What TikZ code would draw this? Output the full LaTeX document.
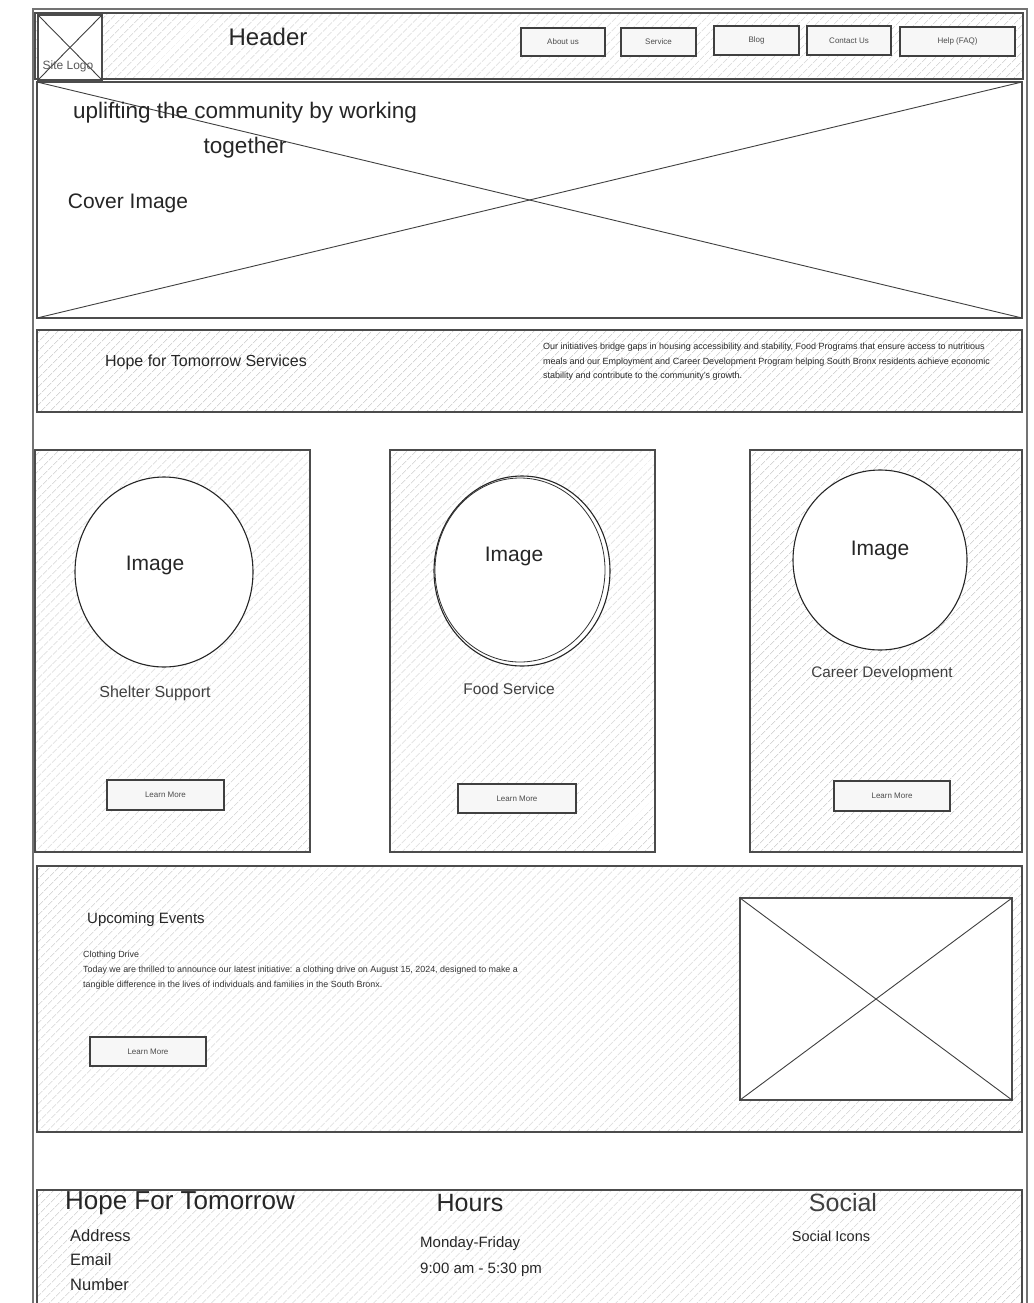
\documentclass[tikz,border=0pt]{standalone}
\usepackage{fontspec}
\setmainfont{Liberation Sans}
\usetikzlibrary{patterns.meta,shapes.geometric}
\begin{document}
\begin{tikzpicture}[x=1pt,y=-1pt,
  frame/.style={draw=black!70, line width=1.3pt},
  hatch/.style={pattern={Lines[angle=45,distance=6.5pt,line width=0.45pt]}, pattern color=black!25},
  box/.style={frame, hatch, inner sep=0pt, outer sep=0pt, anchor=north west},
  plain/.style={frame, fill=white, inner sep=0pt, outer sep=0pt, anchor=north west},
  btn/.style={draw=black!75, line width=1.2pt, fill=black!3, inner sep=0pt, outer sep=0pt, anchor=north west, font=\fontsize{8}{9}\selectfont, text=black!70},
  txt/.style={inner sep=0pt, text=black!85},
  cross/.style={draw=black!75, line width=0.9pt},
  img/.style={ellipse, draw=black!85, line width=1.1pt, fill=white, inner sep=0pt},
]
\useasboundingbox (0,0) rectangle (1033,1303);
% outer page frame
\node[draw=black!55, line width=2.2pt, inner sep=0pt, anchor=north west, minimum width=994, minimum height=1320] (page) at (32,8) {};
% header
\node[box, minimum width=988, minimum height=66] (hdr) at (35,13) {};
\node[plain, minimum width=64, minimum height=65] (logo) at (38,15) {};
\draw[cross] (logo.north west) -- (logo.south east);
\draw[cross] (logo.north east) -- (logo.south west);
\node[txt, font=\fontsize{12}{14}\selectfont, text=black!65] (logotxt) at (68,66) {Site Logo};
\node[txt, font=\fontsize{24}{28}\selectfont] (hdrtxt) at (268,37) {Header};
\node[btn, minimum width=84, minimum height=28] (b1) at (521,28) {About us};
\node[btn, minimum width=75, minimum height=28] (b2) at (621,28) {Service};
\node[btn, minimum width=85, minimum height=29] (b3) at (714,26) {Blog};
\node[btn, minimum width=84, minimum height=29] (b4) at (807,26) {Contact Us};
\node[btn, minimum width=115, minimum height=29] (b5) at (900,27) {Help (FAQ)};
% cover
\node[plain, minimum width=985, minimum height=236] (cover) at (37,82) {};
\draw[cross] (cover.north west) -- (cover.south east);
\draw[cross] (cover.north east) -- (cover.south west);
\node[txt, font=\fontsize{22.5}{35}\selectfont, align=center] (slogan) at (245,130) {uplifting the community by working\\together};
\node[txt, font=\fontsize{21}{24}\selectfont] (covertxt) at (128,203) {Cover Image};
% services band
\node[box, minimum width=985, minimum height=82] (serv) at (37,330) {};
\node[txt, font=\fontsize{16}{19}\selectfont] (servtitle) at (206,362) {Hope for Tomorrow Services};
\node[txt, font=\fontsize{9}{14.5}\selectfont, align=left, anchor=north west] (servpara) at (543,343) {Our initiatives bridge gaps in housing accessibility and stability, Food Programs that ensure access to nutritious\\meals and our Employment and Career Development Program helping South Bronx residents achieve economic\\stability and contribute to the community's growth.};
% cards
\node[box, minimum width=275, minimum height=402] (c1) at (35,450) {};
\node[box, minimum width=265, minimum height=402] (c2) at (390,450) {};
\node[box, minimum width=272, minimum height=402] (c3) at (750,450) {};
\node[img, minimum width=178, minimum height=190] (i1) at (164,572) {};
\node[img, minimum width=176, minimum height=190] (i2) at (522,571) {};
\node[ellipse, draw=black!80, line width=0.8pt, inner sep=0pt, minimum width=170, minimum height=184] (i2b) at (520,570) {};
\node[img, minimum width=174, minimum height=180] (i3) at (880,560) {};
\node[txt, font=\fontsize{21}{24}\selectfont] (it1) at (155,565) {Image};
\node[txt, font=\fontsize{21}{24}\selectfont] (it2) at (514,556) {Image};
\node[txt, font=\fontsize{21}{24}\selectfont] (it3) at (880,550) {Image};
\node[txt, font=\fontsize{16}{19}\selectfont, text=black!75] (l1) at (155,693) {Shelter Support};
\node[txt, font=\fontsize{15.5}{19}\selectfont, text=black!75] (l2) at (509,689) {Food Service};
\node[txt, font=\fontsize{15.3}{19}\selectfont, text=black!75] (l3) at (882,674) {Career Development};
\node[btn, minimum width=117, minimum height=30] (lm1) at (107,780) {Learn More};
\node[btn, minimum width=118, minimum height=29] (lm2) at (458,784) {Learn More};
\node[btn, minimum width=116, minimum height=30] (lm3) at (834,781) {Learn More};
% events
\node[box, minimum width=985, minimum height=266] (ev) at (37,866) {};
\node[txt, font=\fontsize{15}{18}\selectfont] (evtitle) at (146,920) {Upcoming Events};
\node[txt, font=\fontsize{8.9}{15}\selectfont, align=left, anchor=north west, text=black!80] (evpara) at (83,951) {Clothing Drive\\Today we are thrilled to announce our latest initiative: a clothing drive on August 15, 2024, designed to make a\\tangible difference in the lives of individuals and families in the South Bronx.};
\node[btn, minimum width=116, minimum height=29] (lm4) at (90,1037) {Learn More};
\node[plain, minimum width=272, minimum height=202] (evimg) at (740,898) {};
\draw[cross] (evimg.north west) -- (evimg.south east);
\draw[cross] (evimg.north east) -- (evimg.south west);
% footer
\node[box, minimum width=985, minimum height=130] (foot) at (37,1190) {};
\node[txt, font=\fontsize{26}{30}\selectfont] (ftitle) at (180,1203) {Hope For Tomorrow};
\node[txt, font=\fontsize{16.5}{19}\selectfont, anchor=west] (fa) at (70,1236) {Address};
\node[txt, font=\fontsize{16.5}{19}\selectfont, anchor=west] (fe) at (70,1260) {Email};
\node[txt, font=\fontsize{16.5}{19}\selectfont, anchor=west] (fn) at (70,1285) {Number};
\node[txt, font=\fontsize{25}{29}\selectfont] (fhours) at (470,1203) {Hours};
\node[txt, font=\fontsize{15}{18}\selectfont, anchor=west] (fmon) at (420,1244) {Monday-Friday};
\node[txt, font=\fontsize{15}{18}\selectfont, anchor=west] (ftime) at (420,1270) {9:00 am - 5:30 pm};
\node[txt, font=\fontsize{25}{29}\selectfont, text=black!75] (fsoc) at (843,1203) {Social};
\node[txt, font=\fontsize{14.5}{17}\selectfont] (fsi) at (831,1236) {Social Icons};
\end{tikzpicture}
\end{document}
